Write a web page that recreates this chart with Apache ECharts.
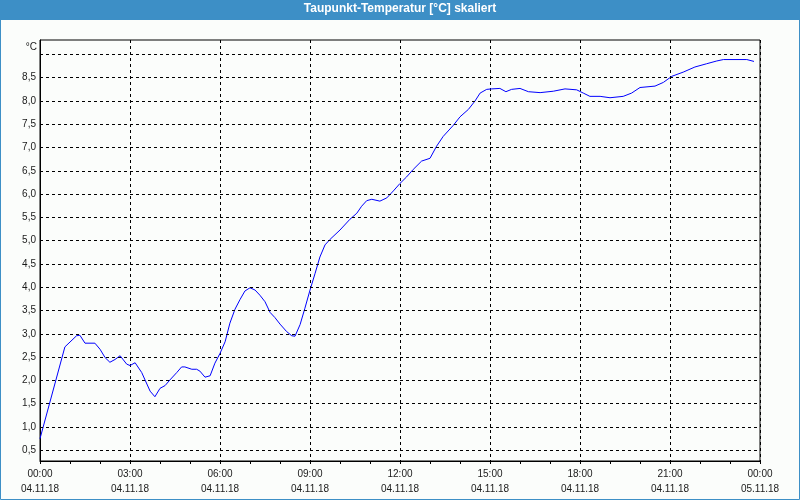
<!DOCTYPE html>
<html><head><meta charset="utf-8">
<script src="https://cdn.jsdelivr.net/npm/echarts@6/dist/echarts.min.js"></script>
<style>html,body{margin:0;padding:0;background:#fbfdfb}#c{width:800px;height:500px}</style>
</head><body><div id="c"></div>
<script>
const titleText = 'Taupunkt-Temperatur [°C] skaliert';
const unitLabel = '°C';
const hours = [0,0.83,1.22,1.33,1.5,1.83,2.0,2.17,2.33,2.5,2.67,2.78,2.89,3.0,3.17,3.39,3.67,3.83,4.0,4.17,4.33,4.56,4.72,4.83,5.06,5.22,5.33,5.5,5.67,5.83,6.0,6.17,6.33,6.5,6.67,6.83,7.0,7.17,7.33,7.5,7.67,7.83,8.0,8.22,8.39,8.5,8.67,8.83,9.0,9.17,9.33,9.5,9.67,10.0,10.33,10.56,10.72,10.89,11.06,11.33,11.56,11.78,12.0,12.22,12.44,12.72,13.0,13.22,13.44,13.78,14.0,14.28,14.5,14.67,14.89,15.06,15.33,15.53,15.72,16.0,16.28,16.67,17.11,17.5,17.89,18.11,18.33,18.67,19.0,19.44,19.72,20.0,20.5,20.78,21.06,21.44,21.83,22.22,22.56,22.78,23.56,23.8];
const dewpoint = [0.75,2.72,2.96,2.97,2.80,2.80,2.67,2.49,2.39,2.45,2.53,2.44,2.35,2.32,2.38,2.17,1.77,1.65,1.83,1.89,2.01,2.17,2.29,2.29,2.24,2.24,2.20,2.07,2.10,2.37,2.58,2.83,3.23,3.53,3.74,3.92,3.99,3.94,3.83,3.69,3.46,3.35,3.21,3.05,2.96,2.95,3.20,3.55,3.94,4.30,4.65,4.91,5.03,5.23,5.46,5.59,5.74,5.86,5.89,5.85,5.92,6.07,6.23,6.37,6.53,6.71,6.77,7.03,7.24,7.48,7.66,7.82,8.00,8.17,8.25,8.26,8.27,8.20,8.25,8.27,8.20,8.18,8.21,8.26,8.24,8.17,8.10,8.10,8.07,8.10,8.17,8.29,8.32,8.40,8.53,8.62,8.73,8.80,8.86,8.89,8.89,8.85];
const xTickHours = [0,3,6,9,12,15,18,21,24];
const xTickTimes = ['00:00','03:00','06:00','09:00','12:00','15:00','18:00','21:00','00:00'];
const xTickDates = ['04.11.18','04.11.18','04.11.18','04.11.18','04.11.18','04.11.18','04.11.18','04.11.18','05.11.18'];
const yLabels = [0.5,1,1.5,2,2.5,3,3.5,4,4.5,5,5.5,6,6.5,7,7.5,8,8.5];
const yGrid = [0.5,1,1.5,2,2.5,3,3.5,4,4.5,5,5.5,6,6.5,7,7.5,8,8.5,9];
const yMin = 0.27, yMax = 9.31;

const chart = echarts.init(document.getElementById('c'), null, {renderer:'canvas'});
const font = 'Liberation Sans';
chart.setOption({
  backgroundColor: '#fbfdfb',
  animation: false,
  graphic: [
    {type:'rect', shape:{x:0,y:0,width:800,height:20}, style:{fill:'#3d8fc6'}, z:-1},
    {type:'rect', shape:{x:0.5,y:0.5,width:799,height:499}, style:{fill:null, stroke:'#3d8fc6', lineWidth:1}, z:-1}
  ],
  title: {text: titleText, left:'center', top:3, padding:0,
    textStyle:{color:'#ffffff', fontSize:12, fontWeight:'bold', fontFamily:font}},
  grid: {left:40, right:40, top:40, bottom:39, show:true, borderColor:'#000', borderWidth:1, backgroundColor:'transparent'},
  xAxis: {type:'value', min:0, max:24, interval:3,
    axisLine:{show:true, lineStyle:{color:'#000'}},
    axisTick:{show:true, length:3, lineStyle:{color:'#000'}},
    minorTick:{show:true, splitNumber:3, length:3, lineStyle:{color:'#000'}},
    splitLine:{show:true, lineStyle:{color:'#000', type:[3,3], width:1}},
    axisLabel:{color:'#1a1a1a', fontSize:10, fontFamily:font, lineHeight:15, margin:6,
      formatter: v => { const i = xTickHours.indexOf(v); return i<0 ? '' : xTickTimes[i] + '\n' + xTickDates[i]; }}
  },
  yAxis: {type:'value', min:yMin, max:yMax,
    name: unitLabel, nameLocation:'end', nameGap:-2,
    nameTextStyle:{color:'#1a1a1a', fontSize:10, fontFamily:font, align:'right', verticalAlign:'top', padding:[0,3,0,0]},
    axisLine:{show:true, lineStyle:{color:'#000'}},
    axisTick:{show:false},
    splitLine:{show:false},
    axisLabel:{color:'#1a1a1a', fontSize:10, fontFamily:font, margin:4, customValues: yLabels,
      formatter: v => v.toFixed(1).replace('.', ',')}
  },
  series: [{type:'line', data: hours.map((h,i)=>[h, dewpoint[i]]), showSymbol:false, symbol:'none',
    lineStyle:{color:'#0000ff', width:1}, itemStyle:{color:'#0000ff'}, z:3,
    markLine:{silent:true, symbol:'none', animation:false, label:{show:false},
      lineStyle:{color:'#000', type:[3,3], width:1},
      emphasis:{disabled:true},
      data: yGrid.map(v => ({yAxis:v}))}
  }]
});
</script></body></html>
